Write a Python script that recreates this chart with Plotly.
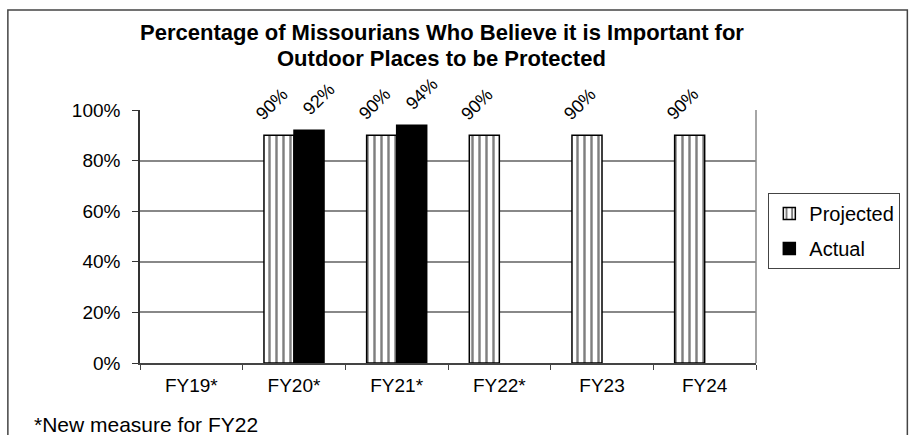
import plotly.graph_objects as go

categories = ["FY19*", "FY20*", "FY21*", "FY22*", "FY23", "FY24"]
projected = [None, 90, 90, 90, 90, 90]
actual = [None, 92, 94, None, None, None]
y_ticks = [0, 20, 40, 60, 80, 100]
y_tick_labels = ["0%", "20%", "40%", "60%", "80%", "100%"]
title_lines = ["Percentage of Missourians Who Believe it is Important for",
               "Outdoor Places to be Protected"]
footnote = "*New measure for FY22"

FONT = "Liberation Sans, Arial, sans-serif"

fig = go.Figure()
fig.add_trace(go.Bar(
    x=categories, y=projected, name="Projected", legendgroup="p",
    marker=dict(color="white", line=dict(color="black", width=1.5),
                pattern=dict(shape="|", fgcolor="black", bgcolor="white", size=7, solidity=0.35)),
))
fig.add_trace(go.Bar(
    x=categories, y=actual, name="Actual", legendgroup="a",
    marker=dict(color="black", line=dict(color="black", width=1.5)),
))

# rotated value labels
for vals, xs in ((projected, -22), (actual, 25)):
    for c, v in zip(categories, vals):
        if v is None:
            continue
        fig.add_annotation(x=c, y=v, xref="x", yref="y", text=f"{v}%", textangle=-45,
                           showarrow=False, xanchor="center", yanchor="middle",
                           xshift=xs, yshift=31,
                           font=dict(family=FONT, size=18, color="black"))

fig.update_layout(
    width=912, height=435,
    margin=dict(l=140, r=156, t=110, b=72),
    paper_bgcolor="white", plot_bgcolor="white",
    barmode="group", bargap=0.415, bargroupgap=0,
    font=dict(family=FONT, size=19, color="black"),
    showlegend=True,
    legend=dict(x=1.02, xanchor="left", y=0.672, yanchor="top",
                bordercolor="#444", borderwidth=1, bgcolor="white",
                font=dict(family=FONT, size=20, color="black"),
                itemwidth=30, traceorder="grouped", tracegroupgap=6),
)
for line, yp in zip(title_lines, (1.3045, 1.2036)):
    fig.add_annotation(text=f"<b>{line}</b>", xref="paper", yref="paper", x=0.49, y=yp,
                       xanchor="center", yanchor="middle", showarrow=False,
                       font=dict(family=FONT, size=22, color="black"))

fig.update_xaxes(
    showline=True, linecolor="#444", linewidth=1.5,
    ticks="outside", tickson="boundaries", ticklen=5, tickcolor="#444",
    showgrid=False, tickfont=dict(family=FONT, size=19), ticklabelstandoff=4,
)
fig.update_yaxes(
    range=[0, 100], tickvals=y_ticks, ticktext=y_tick_labels,
    showline=True, linecolor="#333", linewidth=1.5,
    ticks="outside", ticklen=6, tickcolor="#333",
    showgrid=True, gridcolor="#888", gridwidth=1.5, zeroline=False,
    tickfont=dict(family=FONT, size=19), ticklabelstandoff=8,
)
# right border of plot area
fig.add_shape(type="line", xref="paper", yref="paper", x0=1, x1=1, y0=0, y1=1,
              line=dict(color="#888", width=1.5))
# outer chart border
fig.add_shape(type="rect", xref="paper", yref="paper", x0=-0.2145, x1=1.2457, y0=-0.32, y1=1.395,
              line=dict(color="#444", width=1.5), layer="below")
fig.add_annotation(text=footnote, xref="paper", yref="paper", x=-0.175, y=-0.19,
                   xanchor="left", yanchor="top", showarrow=False,
                   font=dict(family=FONT, size=21, color="black"))

fig.write_html("out.html", config={"displayModeBar": False},
               post_script="document.body.style.margin='0';document.body.style.overflow='hidden';")
